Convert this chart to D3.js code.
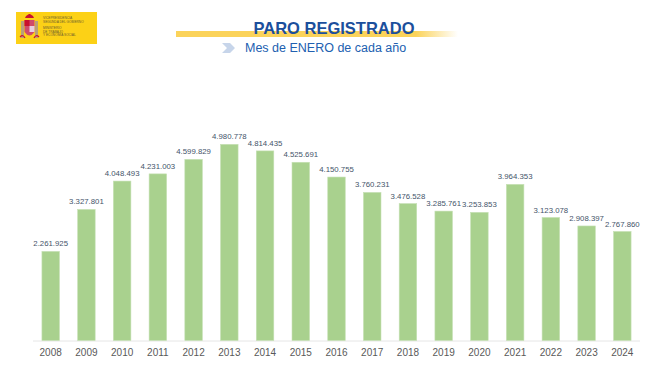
<!DOCTYPE html>
<html>
<head>
<meta charset="utf-8">
<script src="https://cdn.jsdelivr.net/npm/d3@7"></script>
<style>
  body { margin: 0; background: #fff; }
  svg { display: block; font-family: "Liberation Sans", Arial, sans-serif; }
</style>
</head>
<body>
<div id="chart"></div>
<script>
// datos: paro registrado, mes de enero
var years = ["2008","2009","2010","2011","2012","2013","2014","2015","2016",
             "2017","2018","2019","2020","2021","2022","2023","2024"];
var paro = [2261925, 3327801, 4048493, 4231003, 4599829, 4980778, 4814435, 4525691, 4150755,
            3760231, 3476528, 3285761, 3253853, 3964353, 3123078, 2908397, 2767860];

var width = 670, height = 376;
var fmt = d3.formatLocale({decimal: ",", thousands: ".", grouping: [3], currency: ["", "€"]}).format(",");

var svg = d3.select("#chart").append("svg")
    .attr("width", width)
    .attr("height", height);

// logo ministerio
var logo = svg.append("g").attr("transform", "translate(16,12)");
logo.append("rect").attr("width", 81).attr("height", 32).attr("fill", "#fcd116");
// escudo (simplificado)
logo.append("rect").attr("x", 5).attr("y", 9).attr("width", 3).attr("height", 17).attr("fill", "#b8a07a");
logo.append("rect").attr("x", 19).attr("y", 9).attr("width", 3).attr("height", 17).attr("fill", "#b8a07a");
logo.append("path").attr("d", "M9,6 L18,6 L17,4 L14,2 L13,2 L10,4 Z").attr("fill", "#c8102e");
logo.append("path").attr("d", "M8.5,8 L18.5,8 L18.5,20 Q13.5,27 8.5,20 Z").attr("fill", "#d04a6a");
logo.append("rect").attr("x", 8.5).attr("y", 8).attr("width", 5).attr("height", 6).attr("fill", "#c8102e");
logo.append("rect").attr("x", 13.5).attr("y", 14).attr("width", 5).attr("height", 6).attr("fill", "#e8d0e0");
logo.append("path").attr("d", "M4,25 Q7,22 9,26 M18,26 Q20,22 23,25").attr("stroke", "#c8102e").attr("fill", "none").attr("stroke-width", 1.2);
var logoTxt = [
  {t: "VICEPRESIDENCIA", y: 7}, {t: "SEGUNDA DEL GOBIERNO", y: 11},
  {t: "MINISTERIO", y: 17}, {t: "DE TRABAJO", y: 20.5}, {t: "Y ECONOMÍA SOCIAL", y: 24}
];
logo.selectAll("text.l").data(logoTxt).enter().append("text")
    .attr("x", 27).attr("y", function(d) { return d.y; })
    .attr("font-size", 3.2).attr("fill", "#6a5a30")
    .text(function(d) { return d.t; });

// banda amarilla del titulo
var grad = svg.append("defs").append("linearGradient").attr("id", "banda");
grad.append("stop").attr("offset", "0%").attr("stop-color", "#fbd35a");
grad.append("stop").attr("offset", "85%").attr("stop-color", "#fbd35a");
grad.append("stop").attr("offset", "100%").attr("stop-color", "#fbd35a").attr("stop-opacity", 0);
svg.append("rect").attr("x", 176).attr("y", 31).attr("width", 282).attr("height", 6).attr("fill", "url(#banda)");

svg.append("text")
    .attr("x", 334).attr("y", 34)
    .attr("text-anchor", "middle")
    .attr("font-size", 16.5).attr("font-weight", "bold")
    .attr("fill", "#1c4f9c")
    .text("PARO REGISTRADO");

svg.append("path").attr("d", "M222,43 L230,43 L235,48 L230,53 L222,53 L227,48 Z").attr("fill", "#c7d5ea");
svg.append("text")
    .attr("x", 245).attr("y", 52)
    .attr("font-size", 12.5)
    .attr("fill", "#2160b0")
    .text("Mes de ENERO de cada año");

// escalas
var x = d3.scaleBand().domain(years).range([33, 640]).paddingInner(0.51).paddingOuter(0.25);
var y = d3.scaleLinear().domain([0, 5000000]).range([340.5, 143.6]);

// eje
var xAxis = svg.append("g")
    .attr("transform", "translate(0," + 340.5 + ")")
    .call(d3.axisBottom(x).tickSize(0).tickPadding(8));
xAxis.select(".domain").attr("stroke", "#e6e6e6").attr("d", "M33,0.5H640");
xAxis.selectAll("text").attr("font-size", 10).attr("fill", "#595959")
    .attr("font-family", "Liberation Sans, Arial, sans-serif");

// barras
svg.append("g").selectAll("rect")
    .data(paro)
    .enter().append("rect")
    .attr("x", function(d, i) { return x(years[i]); })
    .attr("y", function(d) { return y(d); })
    .attr("width", x.bandwidth())
    .attr("height", function(d) { return y(0) - y(d); })
    .attr("fill", "#a9d18e")
    .attr("stroke", "#c5e0b4")
    .attr("stroke-width", 0.6);

// etiquetas
svg.append("g").selectAll("text")
    .data(paro)
    .enter().append("text")
    .attr("x", function(d, i) { return x(years[i]) + x.bandwidth() / 2; })
    .attr("y", function(d) { return y(d) - 5; })
    .attr("text-anchor", "middle")
    .attr("font-size", 7.8)
    .attr("fill", "#44546a")
    .text(function(d) { return fmt(d); });
</script>
</body>
</html>
